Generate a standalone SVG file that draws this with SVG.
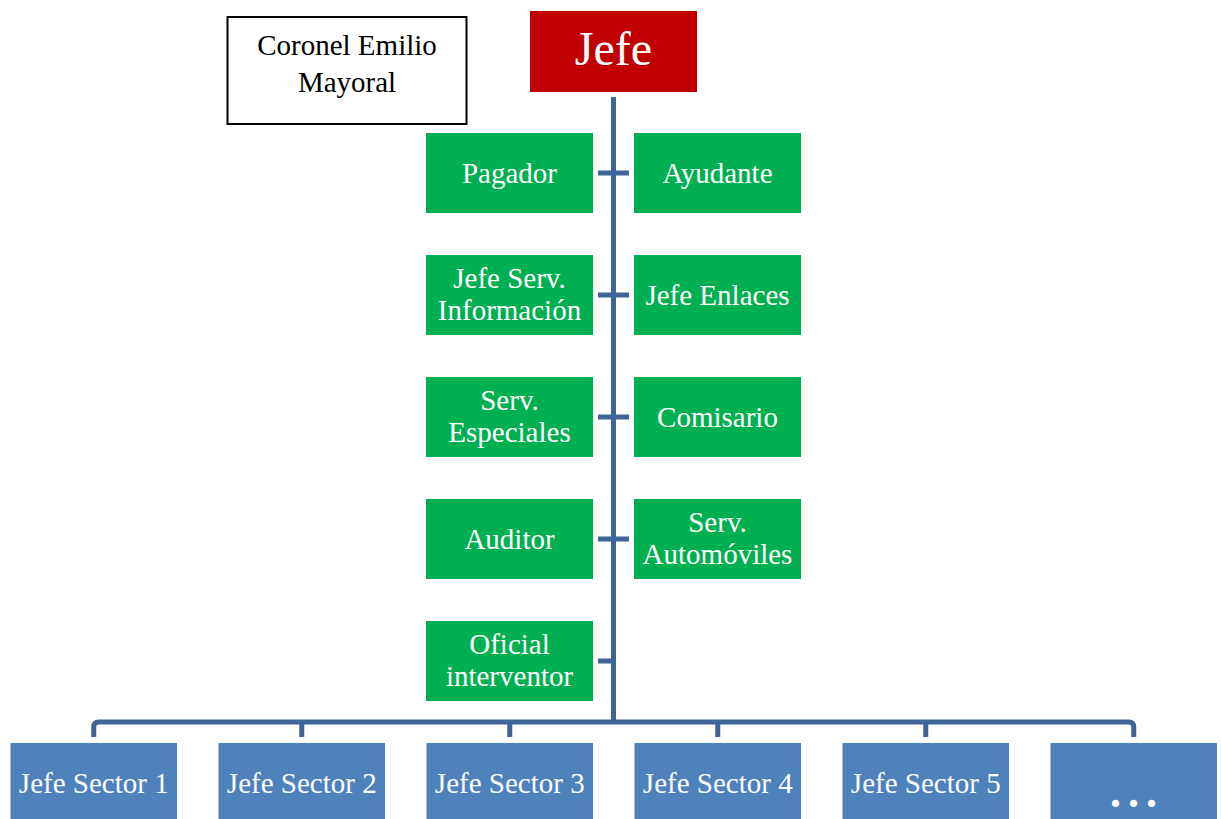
<svg xmlns="http://www.w3.org/2000/svg" width="1221" height="819" viewBox="0 0 1221 819">
<style>
.t{font-family:"Liberation Serif","Times New Roman",serif;font-size:29px;fill:#fff;text-anchor:middle}
.g{fill:#00B050}
.b{fill:#4F81BD}
.ln{stroke:#3F6598;stroke-width:5;fill:none}
</style>
<rect width="1221" height="819" fill="#fff"/>
<g id="connectors">
<path class="ln" d="M613.5,97 V722"/>
<path class="ln" d="M598,173 H629 M598,295 H629 M598,417 H629 M598,539 H629 M598,661 H614"/>
<path class="ln" d="M93.75,737 V727 Q93.75,722 98.75,722 H1128.75 Q1133.75,722 1133.75,727 V737"/>
<path class="ln" d="M301.75,722 V737 M509.75,722 V737 M717.75,722 V737 M925.75,722 V737"/>
</g>
<g id="coronel">
<rect x="227.5" y="17" width="239" height="107" fill="#fff" stroke="#000" stroke-width="2"/>
<text class="t" x="347" y="55" style="fill:#000">Coronel Emilio</text>
<text class="t" x="347" y="92" style="fill:#000">Mayoral</text>
</g>
<g id="jefe">
<rect x="530" y="11" width="167" height="81" fill="#C00000"/>
<text class="t" x="613.5" y="65" style="font-size:48px">Jefe</text>
</g>
<g id="pagador"><rect class="g" x="426" y="133" width="167" height="80"/><text class="t" x="509.5" y="183">Pagador</text></g>
<g id="ayudante"><rect class="g" x="634" y="133" width="167" height="80"/><text class="t" x="717.5" y="183">Ayudante</text></g>
<g id="jefe-serv-informacion"><rect class="g" x="426" y="255" width="167" height="80"/><text class="t" x="509.5" y="288">Jefe Serv.</text><text class="t" x="509.5" y="320">Información</text></g>
<g id="jefe-enlaces"><rect class="g" x="634" y="255" width="167" height="80"/><text class="t" x="717.5" y="305">Jefe Enlaces</text></g>
<g id="serv-especiales"><rect class="g" x="426" y="377" width="167" height="80"/><text class="t" x="509.5" y="410">Serv.</text><text class="t" x="509.5" y="442">Especiales</text></g>
<g id="comisario"><rect class="g" x="634" y="377" width="167" height="80"/><text class="t" x="717.5" y="427">Comisario</text></g>
<g id="auditor"><rect class="g" x="426" y="499" width="167" height="80"/><text class="t" x="509.5" y="549">Auditor</text></g>
<g id="serv-automoviles"><rect class="g" x="634" y="499" width="167" height="80"/><text class="t" x="717.5" y="532">Serv.</text><text class="t" x="717.5" y="564">Automóviles</text></g>
<g id="oficial-interventor"><rect class="g" x="426" y="621" width="167" height="80"/><text class="t" x="509.5" y="654">Oficial</text><text class="t" x="509.5" y="686">interventor</text></g>
<g id="sector1"><rect class="b" x="10.5" y="743" width="166.5" height="80"/><text class="t" x="93.75" y="793">Jefe Sector 1</text></g>
<g id="sector2"><rect class="b" x="218.5" y="743" width="166.5" height="80"/><text class="t" x="301.75" y="793">Jefe Sector 2</text></g>
<g id="sector3"><rect class="b" x="426.5" y="743" width="166.5" height="80"/><text class="t" x="509.75" y="793">Jefe Sector 3</text></g>
<g id="sector4"><rect class="b" x="634.5" y="743" width="166.5" height="80"/><text class="t" x="717.75" y="793">Jefe Sector 4</text></g>
<g id="sector5"><rect class="b" x="842.5" y="743" width="166.5" height="80"/><text class="t" x="925.75" y="793">Jefe Sector 5</text></g>
<g id="sector-more"><rect class="b" x="1050.5" y="743" width="166.5" height="80"/><text class="t" x="1137" y="807" style="font-size:44px;font-weight:bold;letter-spacing:7px">...</text></g>
</svg>
